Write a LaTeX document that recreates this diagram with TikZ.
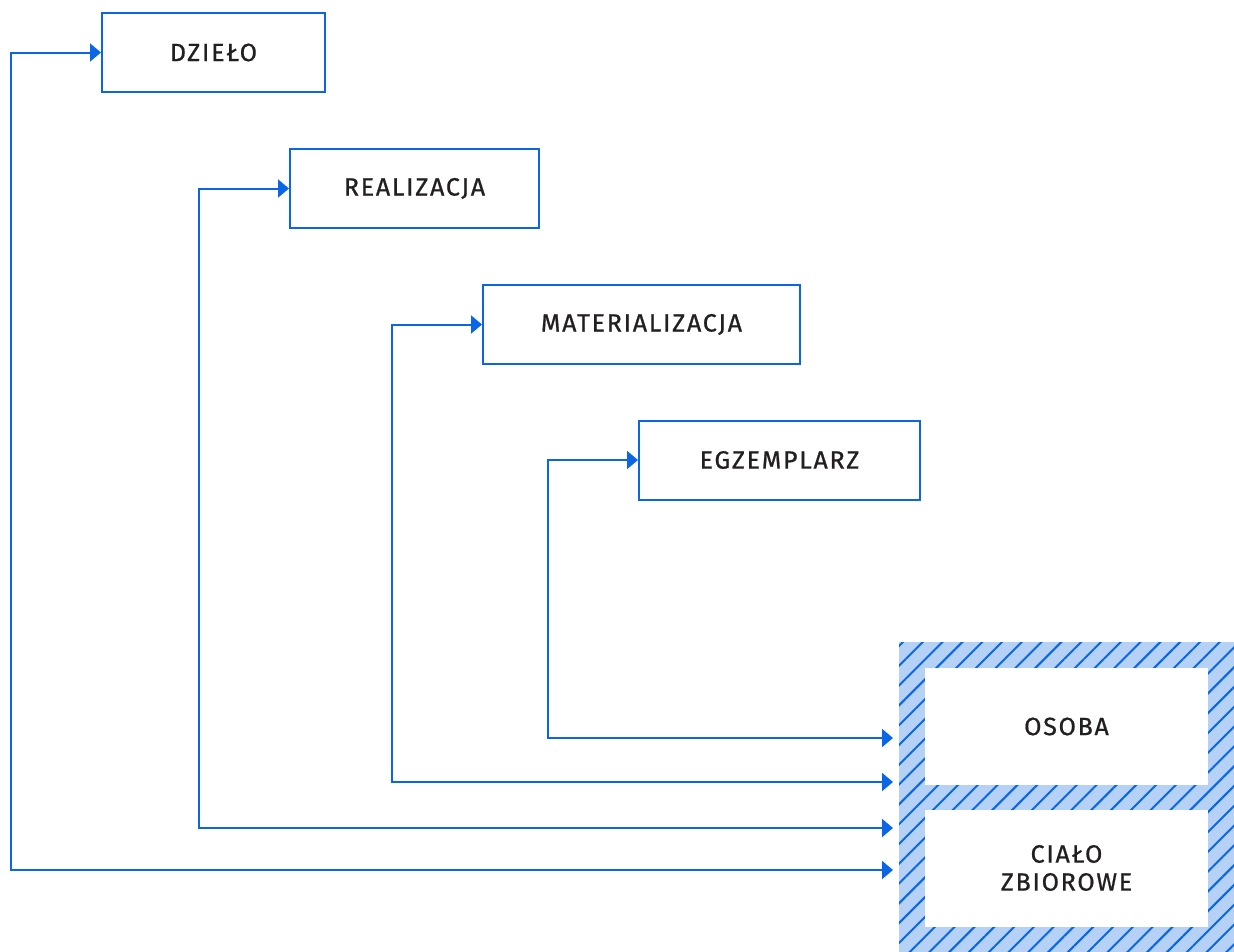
\documentclass[tikz,border=0pt]{standalone}
\usepackage{fontspec}
\setmainfont{Fira Sans}[LetterSpace=7,FakeBold=0.8]
\usetikzlibrary{arrows.meta,patterns.meta}
\definecolor{frbrblue}{HTML}{0A66E4}
\definecolor{hatchbg}{HTML}{B5D2F6}
\definecolor{ink}{HTML}{231F20}
\tikzset{
  box/.style={draw=frbrblue, line width=2pt, fill=white, text=ink,
    minimum height=79pt, font=\fontsize{25}{28}\selectfont, inner sep=0pt},
  agentbox/.style={fill=white, text=ink, minimum width=283pt, minimum height=117pt,
    font=\fontsize{25}{28}\selectfont, align=center, inner sep=0pt},
  link/.style={frbrblue, line width=2pt, {Triangle[length=11pt,width=18pt]}-{Triangle[length=11pt,width=18pt]}, shorten >=5pt},
}
\begin{document}
\begin{tikzpicture}[x=1pt,y=-1pt]
  \useasboundingbox (0,0) rectangle (1234,951);
  % group 1
  \node[box, minimum width=223pt] (dzielo) at (213.5,52.5) {DZIEŁO};
  \node[box, minimum width=249pt] (realizacja) at (414.5,188.5) {REALIZACJA};
  \node[box, minimum width=317pt] (materializacja) at (641.5,324.5) {MATERIALIZACJA};
  \node[box, minimum width=281pt] (egzemplarz) at (779.5,460) {EGZEMPLARZ};
  % group 2
  \node[anchor=north west, minimum width=336pt, minimum height=310pt, inner sep=0pt,
    pattern={Lines[angle=45,distance=14pt,line width=2pt]},
    pattern color=frbrblue, preaction={fill=hatchbg}] (agent) at (898,641) {};
  \node[agentbox] (osoba) at (1066.5,726.5) {OSOBA};
  \node[agentbox] (cialo) at (1066.5,868) {CIAŁO\\ZBIOROWE};
  % relations
  \draw[link] (dzielo.west) -- ++(-90,0) |- (agent.west |- 0,870);
  \draw[link] (realizacja.west) -- ++(-90,0) |- (agent.west |- 0,828);
  \draw[link] (materializacja.west) -- ++(-90,0) |- (agent.west |- 0,782);
  \draw[link] (egzemplarz.west) -- ++(-90,0) |- (agent.west |- 0,738);
\end{tikzpicture}
\end{document}
